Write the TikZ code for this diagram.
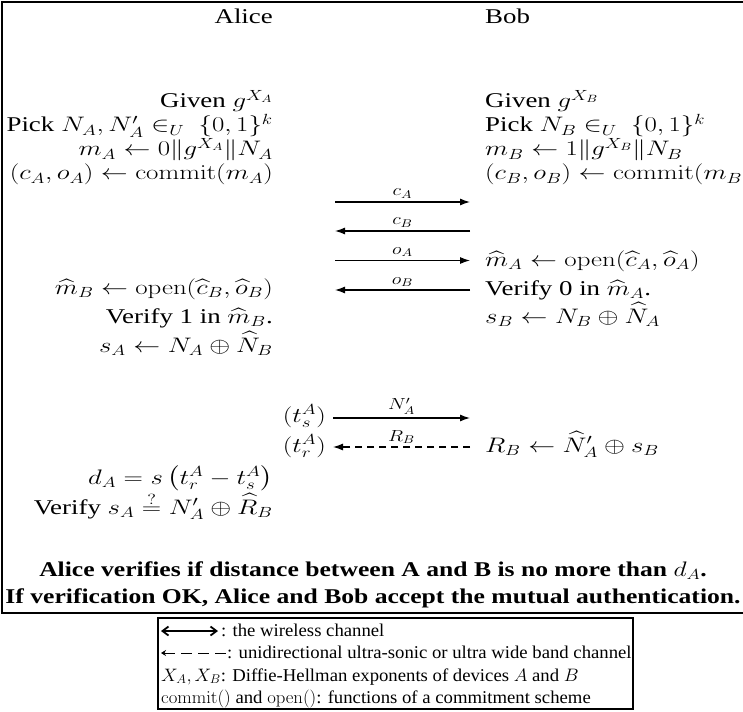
\RequirePackage{fix-cm}
\documentclass[tikz,border=0pt]{standalone}
\usepackage{amsmath,amssymb,graphicx}
\usepackage[no-math]{fontspec}
\setmainfont{Liberation Serif}
\usetikzlibrary{arrows.meta}
\newsavebox{\nodetextbox}
\tikzset{
  hx/.style={execute at begin node={\begin{lrbox}{\nodetextbox}},
             execute at end node={\end{lrbox}\scalebox{#1}[1]{\usebox{\nodetextbox}}}},
  txt/.style={inner sep=0pt, font=\fontsize{21}{24}\selectfont, hx=1.28},
  al/.style={txt, anchor=base east},
  bl/.style={txt, anchor=base west},
  msg/.style={line width=1.2pt, -{Latex[length=10pt,width=7pt]}},
  dmsg/.style={line width=1.2pt, dash pattern=on 7pt off 5pt, -{Latex[length=10pt,width=7pt]}},
  lbl/.style={midway, above=3pt, inner sep=0pt, font=\fontsize{16}{18}\selectfont, hx=1.25},
  bold/.style={inner sep=0pt, anchor=base, font=\fontsize{21}{26}\bfseries\selectfont, hx=1.22},
  leg/.style={inner sep=0pt, anchor=base west, font=\fontsize{18}{22}\selectfont, hx=1.04},
}
\begin{document}
\begin{tikzpicture}[x=1pt,y=1pt]
\useasboundingbox (0,0) rectangle (743,-711);
% frame
\draw[line width=2.4pt] (2,-2) rectangle (760,-613);
% headers
\node[al] (alice) at (273,-24) {Alice};
\node[bl] (bob) at (485,-24) {Bob};
% Alice column
\node[al] (a1) at (273,-108) {Given $g^{X_A}$};
\node[al] (a2) at (273,-132) {Pick $N_A, N'_A \in_U\ \{0,1\}^k$};
\node[al] (a3) at (273,-156) {$m_A \leftarrow 0\|g^{X_A}\|N_A$};
\node[al] (a4) at (273,-180) {$(c_A,o_A) \leftarrow \mathrm{commit}(m_A)$};
\node[al] (a5) at (273,-294) {$\widehat{m}_B \leftarrow \mathrm{open}(\widehat{c}_B,\widehat{o}_B)$};
\node[al] (a6) at (273,-323) {Verify 1 in $\widehat{m}_B$.};
\node[al] (a7) at (273,-352) {$s_A \leftarrow N_A \oplus \widehat{N}_B$};
\node[al] (a8) at (273,-484) {$d_A = s\left(t_r^A - t_s^A\right)$};
\node[al] (a9) at (273,-514) {Verify $s_A \stackrel{\raisebox{-2.5pt}{$\scriptstyle ?$}}{=} N'_A \oplus \widehat{R}_B$};
% Bob column
\node[bl] (b1) at (485,-108) {Given $g^{X_B}$};
\node[bl] (b2) at (485,-132) {Pick $N_B \in_U\ \{0,1\}^k$};
\node[bl] (b3) at (485,-156) {$m_B \leftarrow 1\|g^{X_B}\|N_B$};
\node[bl] (b4) at (485,-180) {$(c_B,o_B) \leftarrow \mathrm{commit}(m_B)$};
\node[bl] (b5) at (485,-266) {$\widehat{m}_A \leftarrow \mathrm{open}(\widehat{c}_A,\widehat{o}_A)$};
\node[bl] (b6) at (485,-295) {Verify 0 in $\widehat{m}_A$.};
\node[bl] (b7) at (485,-323) {$s_B \leftarrow N_B \oplus \widehat{N}_A$};
\node[bl] (b8) at (485,-452) {$R_B \leftarrow \widehat{N}'_A \oplus s_B$};
% timestamps
\node[al] (ts) at (326,-422) {$(t_s^A)$};
\node[al] (tr) at (326,-452) {$(t_r^A)$};
% message endpoints
\coordinate (L1) at (335,-202); \coordinate (R1) at (470,-202);
\coordinate (L2) at (335,-231); \coordinate (R2) at (470,-231);
\coordinate (L3) at (335,-260.5); \coordinate (R3) at (470,-260.5);
\coordinate (L4) at (335,-290); \coordinate (R4) at (470,-290);
\coordinate (L5) at (333,-418); \coordinate (R5) at (470,-418);
\coordinate (L6) at (333,-447); \coordinate (R6) at (470,-447);
\draw[msg] (L1) -- node[lbl] (lab1) {$c_A$} (R1);
\draw[msg] (R2) -- node[lbl] (lab2) {$c_B$} (L2);
\draw[msg] (L3) -- node[lbl] (lab3) {$o_A$} (R3);
\draw[msg] (R4) -- node[lbl] (lab4) {$o_B$} (L4);
\draw[msg] (L5) -- node[lbl] (lab5) {$N'_A$} (R5);
\draw[dmsg] (R6) -- node[lbl] (lab6) {$R_B$} (L6);
% conclusions
\node[bold] (c1) at (373,-576) {Alice verifies if distance between A and B is no more than $d_A$.};
\node[bold] (c2) at (373,-603) {If verification OK, Alice and Bob accept the mutual authentication.};
% legend
\node[draw, line width=1.6pt, inner sep=0pt, minimum width=475pt, minimum height=91pt, anchor=north west] (legend) at (157,-617) {};
\coordinate (w1) at (161,-631); \coordinate (w2) at (218,-631);
\draw[line width=1.8pt, {Straight Barb[length=6pt,width=9pt]}-{Straight Barb[length=6pt,width=9pt]}] (w1) -- (w2);
\node[leg] (t1) at (221,-636) {: the wireless channel};
\coordinate (d1) at (161,-653); \coordinate (d2) at (226,-653);
\draw[line width=1pt, dash pattern=on 11pt off 6pt, {Stealth[length=5pt,width=6pt]}-] (d1) -- (d2);
\node[leg] (t2) at (227,-658) {: unidirectional ultra-sonic or ultra wide band channel};
\node[leg] (t3) at (161,-681) {$X_A, X_B$: Diffie-Hellman exponents of devices $A$ and $B$};
\node[leg] (t4) at (161,-703) {$\mathrm{commit}()$ and $\mathrm{open}()$: functions of a commitment scheme};
\end{tikzpicture}
\end{document}
